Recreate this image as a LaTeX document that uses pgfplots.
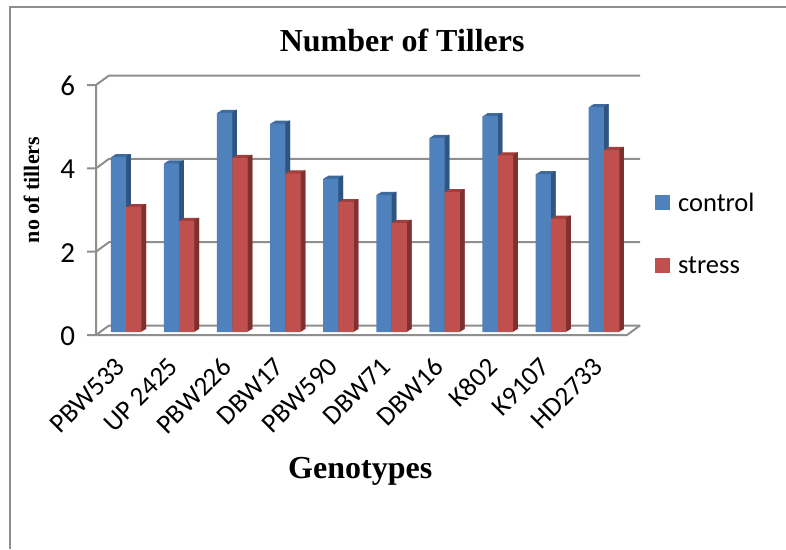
\documentclass[border=0pt]{standalone}
\usepackage{fontspec}
\setmainfont{Carlito}
\newfontfamily\serifb[Ligatures=TeX]{Liberation Serif}
\usepackage{pgfplots}
\usepackage{pgfplotstable}
\pgfplotsset{compat=1.18}

\definecolor{ctrl}{HTML}{4F81BD}
\definecolor{ctrlside}{HTML}{2F5480}
\definecolor{ctrltop}{HTML}{3E6A9E}
\definecolor{strs}{HTML}{C0504D}
\definecolor{strsside}{HTML}{7D312F}
\definecolor{strstop}{HTML}{A03F3C}
\definecolor{gridc}{HTML}{8E8E8E}

\pgfplotstableread{
idx control stress
0 4.20 3.00
1 4.05 2.67
2 5.26 4.18
3 5.00 3.81
4 3.68 3.12
5 3.29 2.62
6 4.66 3.36
7 5.18 4.24
8 3.79 2.72
9 5.40 4.37
}\tillers

\begin{document}
\begin{tikzpicture}
\useasboundingbox (0,0) rectangle (786pt,549pt);
\draw[gridc, line width=2pt] (10pt,0) -- (10pt,542pt) -- (786pt,542pt);
\begin{axis}[
  at={(99.5pt,217pt)}, anchor=south west,
  scale only axis, width=531pt, height=250pt,
  xmin=-0.5, xmax=9.5, ymin=0, ymax=6,
  clip=false,
  axis line style={draw=none},
  tick style={draw=none},
  xtick={0,...,9},
  xticklabels={PBW533,UP 2425,PBW226,DBW17,PBW590,DBW71,DBW16,K802,K9107,HD2733},
  ytick={0,2,4,6},
  /pgf/number format/assume math mode=true,
  tick label style={font=\fontsize{29}{29}\selectfont},
  xticklabel style={rotate=45, anchor=north east, font=\fontsize{27}{27}\selectfont, xshift=-22pt, yshift=-5pt},
  yticklabel style={xshift=-21pt, yshift=-4pt},
  title={Number of Tillers},
  title style={at={(axis description cs:0.57,1.144)}, anchor=center, font=\serifb\bfseries\fontsize{32}{32}\selectfont},
  xlabel={Genotypes},
  xlabel style={at={(axis description cs:0.491,-0.556)}, anchor=center, font=\serifb\bfseries\fontsize{32}{32}\selectfont},
  ylabel={no of tillers},
  ylabel style={at={(axis description cs:-0.128,0.568)}, anchor=center, rotate=0, font=\serifb\bfseries\fontsize{22}{22}\selectfont},
  legend style={at={(axis description cs:1.046,0.392)}, anchor=west, draw=none, fill=none,
    font=\fontsize{26.5}{26.5}\selectfont, row sep=40pt, inner sep=0pt},
  legend image code/.code={\fill[#1] (0pt,-7.5pt) rectangle (15pt,7.5pt);},
  legend cell align=left,
]
% back wall, side wall and floor
\pgfplotsinvokeforeach{0,2,4,6}{
  \draw[gridc, line width=2pt] ([shift={(-12.5pt,-3pt)}]axis cs:-0.5,#1) -- ([shift={(-3.5pt,-3pt)}]axis cs:-0.5,#1)
    -- ([shift={(9.5pt,6.5pt)}]axis cs:-0.5,#1) -- ([shift={(9.5pt,6.5pt)}]axis cs:9.5,#1);
}
\draw[gridc, line width=2pt] ([shift={(-3.5pt,-3pt)}]axis cs:-0.5,6) -- ([shift={(-3.5pt,-3pt)}]axis cs:-0.5,0)
  -- ([shift={(-3.5pt,-3pt)}]axis cs:9.5,0) -- ([shift={(9.5pt,6.5pt)}]axis cs:9.5,0);

% control: extruded top and side, then the front
\pgfplotsinvokeforeach{5,4,3,2,1}{
  \addplot[ybar, forget plot, draw=none, fill=ctrltop, bar width=15.3pt, bar shift=-7.65pt, xshift=#1*0.94pt, yshift=#1*0.6pt] table[x=idx, y=control] {\tillers};
}
\pgfplotsinvokeforeach{5,4,3,2,1}{
  \addplot[ybar, forget plot, draw=none, fill=ctrlside, bar width=1.2pt, bar shift=-0.6pt, xshift=#1*0.94pt, yshift=#1*0.6pt] table[x=idx, y=control] {\tillers};
}
\addplot[ybar, draw=none, fill=ctrl, bar width=15.3pt, bar shift=-7.65pt] table[x=idx, y=control] {\tillers};
\addlegendentry{\hspace{6pt}control}

% stress
\pgfplotsinvokeforeach{5,4,3,2,1}{
  \addplot[ybar, forget plot, draw=none, fill=strstop, bar width=15.3pt, bar shift=7.65pt, xshift=#1*0.94pt, yshift=#1*0.6pt] table[x=idx, y=stress] {\tillers};
}
\pgfplotsinvokeforeach{5,4,3,2,1}{
  \addplot[ybar, forget plot, draw=none, fill=strsside, bar width=1.2pt, bar shift=14.7pt, xshift=#1*0.94pt, yshift=#1*0.6pt] table[x=idx, y=stress] {\tillers};
}
\addplot[ybar, draw=none, fill=strs, bar width=15.3pt, bar shift=7.65pt] table[x=idx, y=stress] {\tillers};
\addlegendentry{\hspace{6pt}stress}
\end{axis}
\end{tikzpicture}
\end{document}
